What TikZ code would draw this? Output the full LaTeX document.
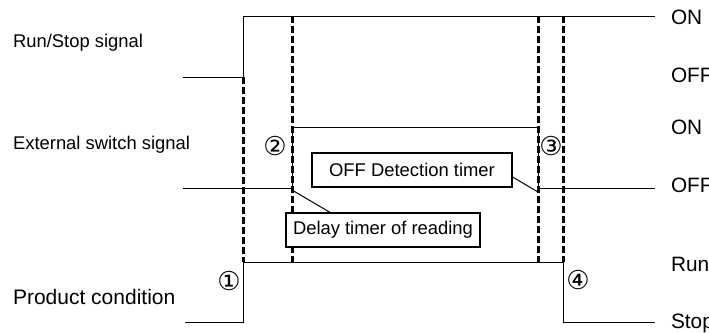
\documentclass[tikz,border=0pt]{standalone}
\usepackage{fontspec}
\setmainfont{Liberation Sans}
\newfontfamily\circfont{DejaVu Sans}

\begin{document}
\begin{tikzpicture}[
  x=0.5pt,y=-0.5pt,
  font=\fontsize{9.2}{11}\selectfont,
  wave/.style={line width=0.5pt,line join=miter},
  edge/.style={line width=1.5pt,dash pattern=on 3.4pt off 1.6pt},
  timer/.style={draw,line width=0.6pt,inner sep=0pt,minimum height=17pt,fill=white},
  lead/.style={line width=0.5pt},
  sig/.style={anchor=west},
  lvl/.style={anchor=west,font=\fontsize{10.4}{12}\selectfont},
  num/.style={font=\circfont\fontsize{13}{14}\selectfont,inner sep=0pt}
]
\useasboundingbox (0,0) rectangle (709,333);

\node[sig] (rs) at (6,43) {Run/Stop signal};
\node[sig] (ext) at (6,145) {External switch signal};
\node[sig,font=\fontsize{10.5}{12}\selectfont] (prod) at (6,297) {Product condition};

\draw[wave] (183,77) -- (243,77) -- (243,16) -- (655,16);
\draw[wave] (183,188) -- (292,188) -- (292,127) -- (538,127)
  -- (538,188) -- (655,188);
\draw[wave] (185,322) -- (243,322) -- (243,262) -- (563,262)
  -- (563,322) -- (655,322);

\draw[edge] (243,77) -- (243,262);
\draw[edge] (292,16) -- (292,262);
\draw[edge] (538,16) -- (538,262);
\draw[edge] (563,16) -- (563,262);

\node[lvl] (on1) at (664,17) {ON};
\node[lvl] (off1) at (664,75) {OFF};
\node[lvl] (on2) at (664,127) {ON};
\node[lvl] (off2) at (664,185) {OFF};
\node[lvl] (run) at (664,264) {Run};
\node[lvl] (stop) at (664,323) {Stop};

\node[num] (n1) at (229,281) {①};
\node[num] (n2) at (275,146) {②};
\node[num] (n3) at (551,146) {③};
\node[num] (n4) at (578,280) {④};

\coordinate (offend) at (538,192);
\coordinate (dlyend) at (292,190);
\node[timer,minimum width=100pt] (offdet) at (412,170) {OFF Detection timer};
\node[timer,minimum width=97pt] (delay) at (383,230) {Delay timer of reading};

\draw[lead] (offdet.east |- 0,177) -- (offend);
\draw[lead] (delay.north -| 330,0) -- (dlyend);
\end{tikzpicture}
\end{document}
